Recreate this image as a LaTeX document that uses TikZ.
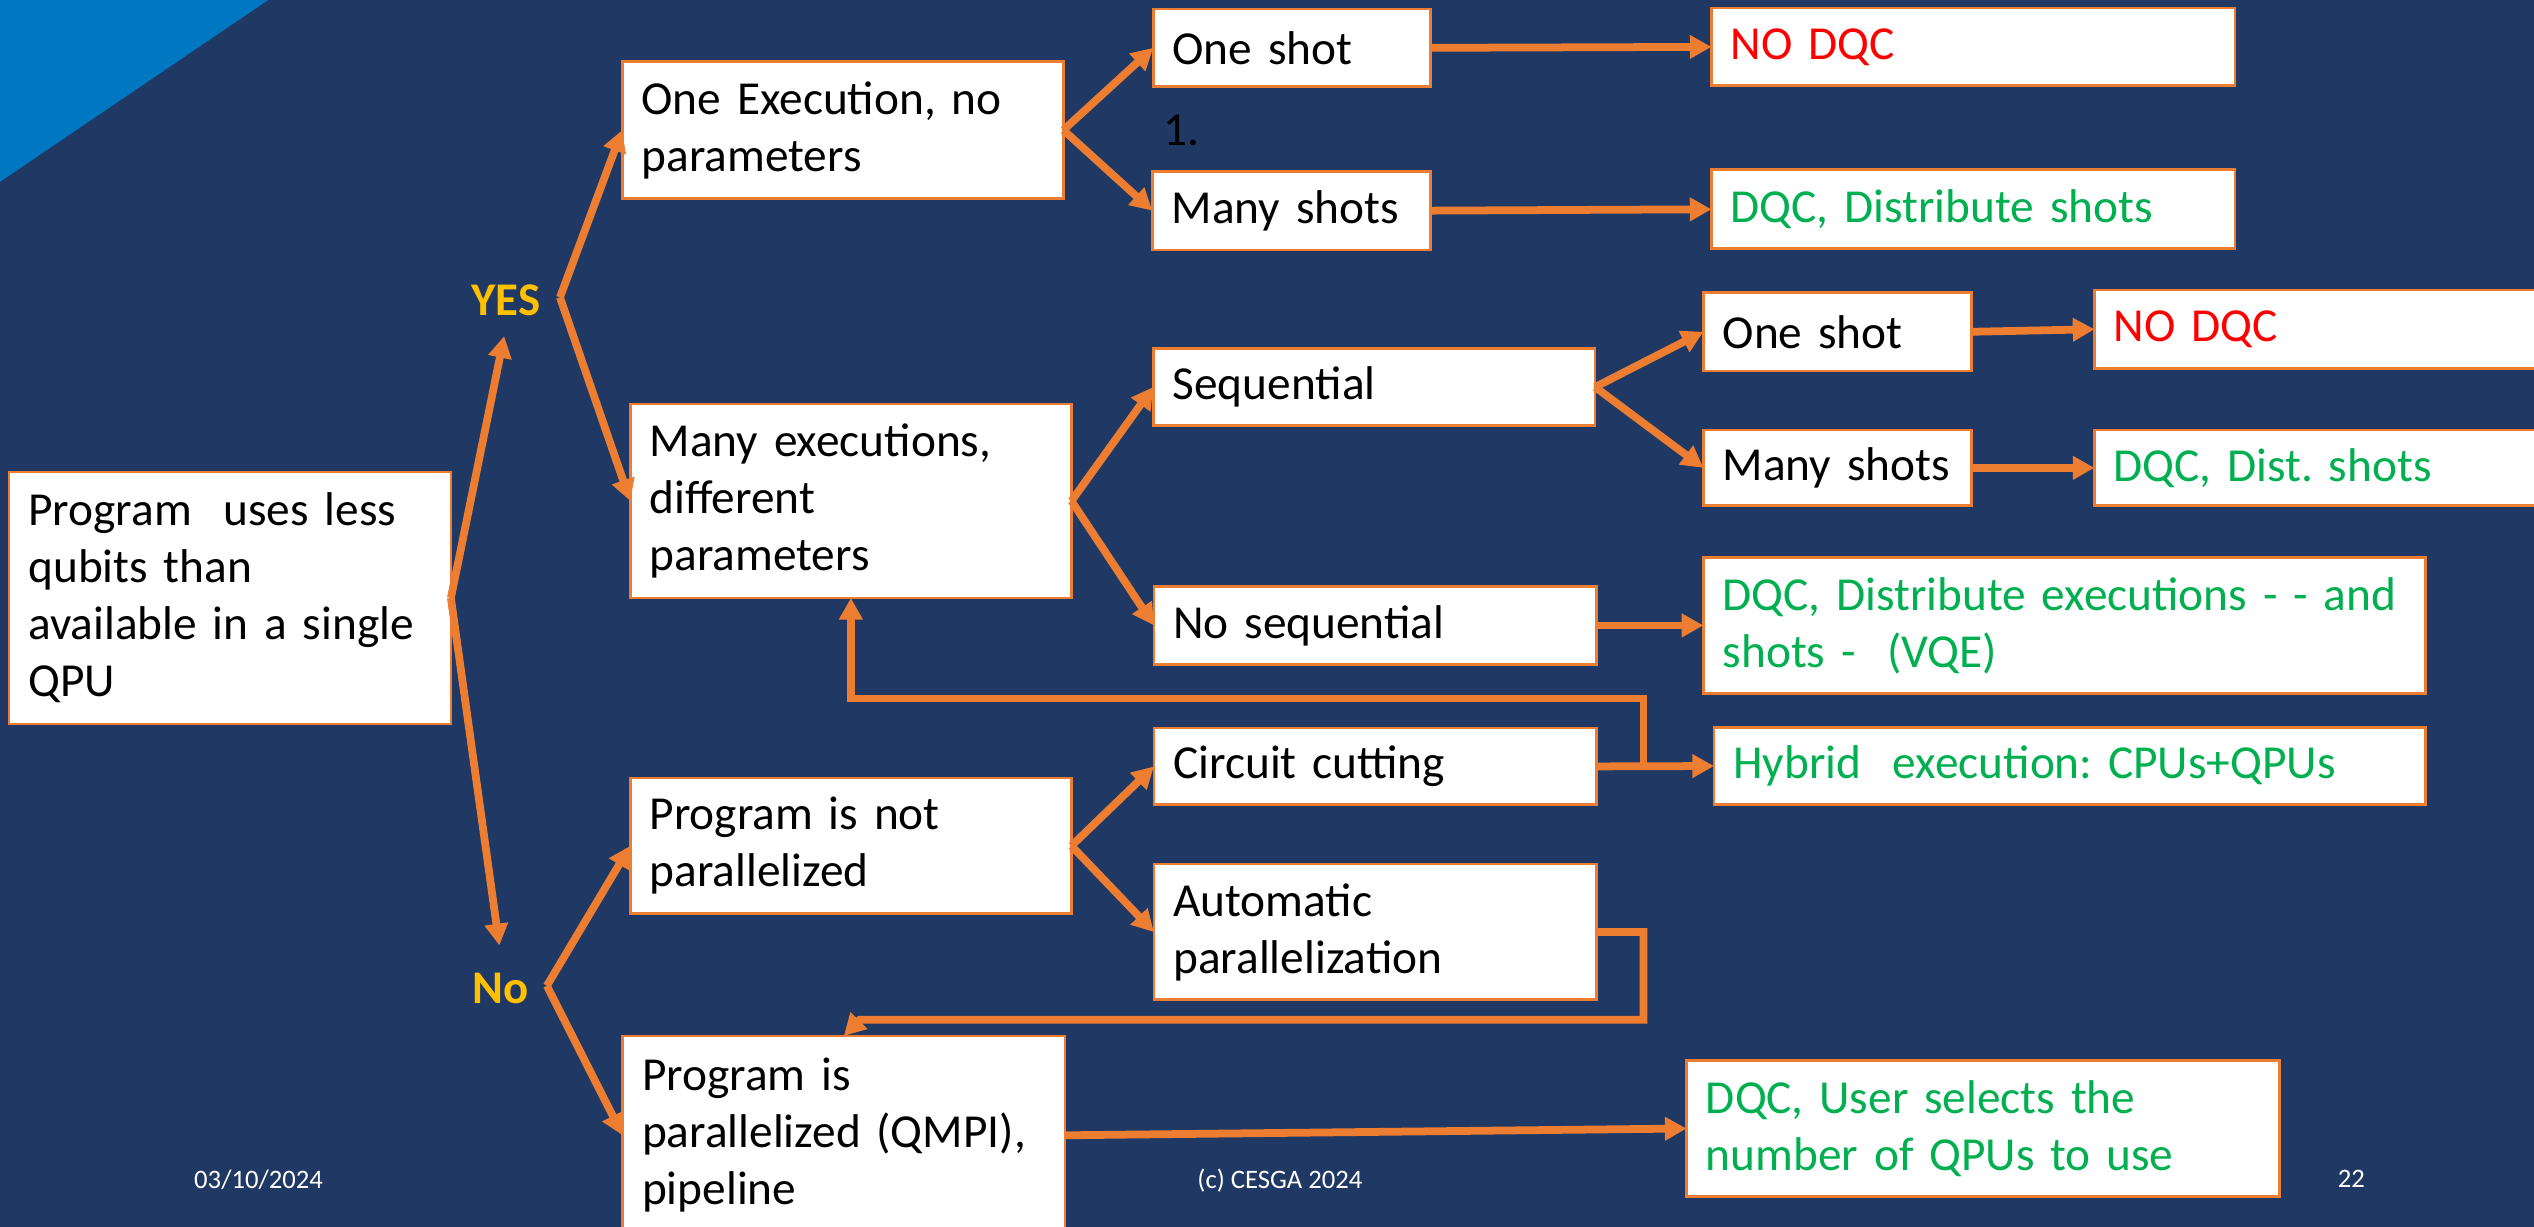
\documentclass[tikz,border=0pt]{standalone}
\usepackage{fontspec}
\setmainfont{Carlito}
\usetikzlibrary{arrows.meta}
\frenchspacing

\definecolor{bg}{RGB}{32,56,100}
\definecolor{corner}{RGB}{0,120,193}
\definecolor{lineorange}{RGB}{237,125,49}
\definecolor{okgreen}{RGB}{0,176,80}
\definecolor{nored}{RGB}{255,0,0}
\definecolor{gold}{RGB}{255,192,0}

\tikzset{
  box/.style={draw=lineorange, fill=white, line width=1.7pt, rectangle,
    anchor=north west, inner xsep=12pt, inner ysep=0pt, outer sep=0pt,
    align=left, text=black, font=\fontsize{29.3}{35.3}\selectfont},
  sz/.style n args={3}{minimum width=#1, text width=#2, minimum height=#3},
  good/.style={text=okgreen},
  bad/.style={text=nored},
  arr/.style={draw=lineorange, line width=4.8pt,
    -{Triangle[length=13.4pt,width=14pt]}},
  answer/.style={text=gold, inner sep=0pt, anchor=base,
    font=\bfseries\fontsize{29}{35}\selectfont},
  plain/.style={text=black, inner sep=0pt, font=\fontsize{29.3}{35.3}\selectfont},
  foot/.style={text=white, inner sep=0pt, anchor=base,
    font=\fontsize{16.5}{20}\selectfont},
}

\begin{document}
\begin{tikzpicture}[x=1pt,y=-1pt]
\useasboundingbox (0,0) rectangle (1568,759);
\fill[bg] (0,0) rectangle (1568,759);
\fill[corner] (0,0) -- (166,0) -- (0,112.5) -- cycle;

% root question
\node[box, sz={273.5pt}{249.5pt}{156pt}] (main) at (5.5,292)
  {Program\ \ uses less\\qubits than\\available in a single\\QPU};

% answers
\node[answer] (yes) at (313,195) {YES};
\node[answer] (no) at (309.5,621) {No};
\coordinate (yestip) at (312,208);
\coordinate (notip) at (309,585);
\coordinate (yesfork) at (346.5,184);
\coordinate (nofork) at (338.4,610);

% YES branch
\node[box, sz={273pt}{249pt}{85pt}] (oneexec) at (385,38)
  {One Execution, no\\parameters};
\node[box, sz={273pt}{249pt}{120pt}] (manyexec) at (390,250)
  {Many executions,\\different\\parameters};

\node[box, sz={171.4pt}{147.4pt}{48pt}] (oneshotA) at (713.6,5.6) {One shot};
\node[box, sz={172pt}{148pt}{48.7pt}] (manyshotsA) at (713,106) {Many shots};
\node[plain, anchor=base west] (step1) at (719.6,90) {1.};
\node[box, bad, sz={324pt}{300pt}{48pt}] (nodqcA) at (1059,5) {NO DQC};
\node[box, good, sz={324pt}{300pt}{49pt}] (dqcshotsA) at (1059,105)
  {DQC, Distribute shots};

\node[box, sz={273.4pt}{249.4pt}{48pt}] (seq) at (713.6,215.5) {Sequential};
\node[box, sz={274pt}{250pt}{48pt}] (noseq) at (714,363) {No sequential};
\node[box, sz={166pt}{142pt}{48.6pt}] (oneshotB) at (1054,181) {One shot};
\node[box, sz={166pt}{142pt}{47pt}] (manyshotsB) at (1054,266) {Many shots};
\node[box, bad, sz={290pt}{266pt}{48.5pt}] (nodqcB) at (1296,179.5) {NO DQC};
\node[box, good, sz={290pt}{266pt}{47pt}] (dqcshotsB) at (1296,266)
  {DQC, Dist. shots};
\node[box, good, sz={447pt}{423pt}{84pt}] (dqcexec) at (1054,345)
  {DQC, Distribute executions - - and\\shots -\ \ (VQE)};

% No branch
\node[box, sz={273pt}{249pt}{84pt}] (notpar) at (390,481.4)
  {Program is not\\parallelized};
\node[box, sz={273.7pt}{249.7pt}{123pt}] (par) at (385.3,641)
  {Program is\\parallelized (QMPI),\\pipeline};
\node[box, sz={274pt}{250pt}{47.5pt}] (cut) at (714,450.5) {Circuit cutting};
\node[box, sz={274pt}{250pt}{84pt}] (autopar) at (714,534.7)
  {Automatic\\parallelization};
\node[box, good, sz={440.4pt}{416.4pt}{48pt}] (hybrid) at (1060.6,450)
  {Hybrid\ \ execution: CPUs+QPUs};
\node[box, good, sz={367pt}{343pt}{84.6pt}] (dqcuser) at (1043.6,656)
  {DQC, User selects the\\number of QPUs to use};

% footer
\node[foot] (date) at (160,735.3) {03/10/2024};
\node[foot] (owner) at (792,735.3) {(c) CESGA 2024};
\node[foot] (page) at (1455,734.6) {22};

% connectors
\draw[arr] (main.east) -- (yestip);
\draw[arr] (main.east) -- (notip);
\draw[arr] (yesfork) -- (oneexec.west);
\draw[arr] (yesfork) -- (manyexec.west);
\draw[arr] (nofork) -- (notpar.west);
\draw[arr] (nofork) -- (par.west);

\draw[arr] (oneexec.east) -- (oneshotA.west);
\draw[arr] (oneexec.east) -- (manyshotsA.west);
\draw[arr] (oneshotA.east) -- (nodqcA.west);
\draw[arr] (manyshotsA.east) -- (dqcshotsA.west);

\draw[arr] (manyexec.east) -- (seq.west);
\draw[arr] (manyexec.east) -- (noseq.west);
\draw[arr] (seq.east) -- (oneshotB.west);
\draw[arr] (seq.east) -- (manyshotsB.west);
\draw[arr] (oneshotB.east) -- (nodqcB.west);
\draw[arr] (manyshotsB.east) -- (dqcshotsB.west);
\draw[arr] (noseq.east) -- (dqcexec.west);

\draw[arr] (notpar.east) -- (cut.west);
\draw[arr] (notpar.east) -- (autopar.west);
\draw[arr] (cut.east) -- (hybrid.west);
\draw[arr] (par.east) -- (dqcuser.west);

% loops back to earlier decisions
\draw[arr] (cut.east) ++(29,0) -- ++(0,-42) -| (manyexec.south);
\draw[arr] (autopar.east) -- ++(29,0) |- (532,631) -- (par.north);
\end{tikzpicture}
\end{document}
